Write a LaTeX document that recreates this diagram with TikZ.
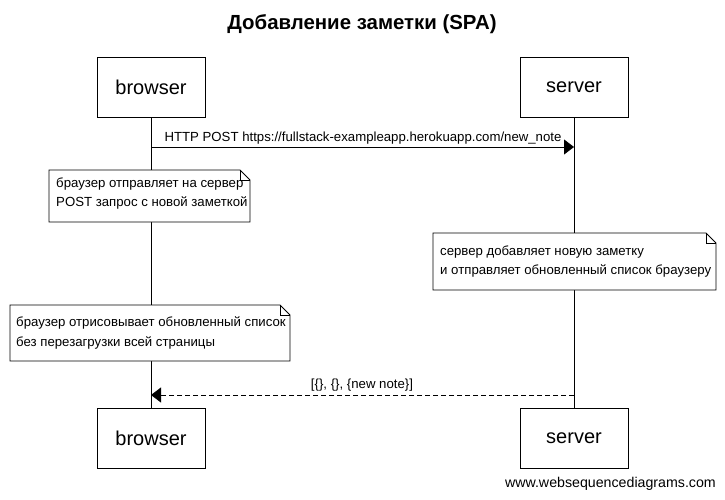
\documentclass[tikz,border=0pt]{standalone}
\usepackage{fontspec}
\setmainfont{Liberation Sans}
\usetikzlibrary{arrows.meta}
\begin{document}
\begin{tikzpicture}[x=1pt,y=-1pt,
  actor/.style={draw,line width=0.8pt,minimum width=108pt,minimum height=60pt,font=\fontsize{20}{24}\selectfont,inner sep=0pt},
  life/.style={line width=0.8pt},
  msg/.style={line width=0.8pt,-{Triangle[length=10pt,width=15pt]}},
  lbl/.style={font=\fontsize{13.2}{15}\selectfont,inner sep=0pt},
  notetext/.style={font=\fontsize{13.2}{15}\selectfont,anchor=west,inner sep=0pt}
]
\useasboundingbox (0,0) rectangle (725,500);
\node[font=\bfseries\fontsize{20.4}{24}\selectfont] (title) at (362,24) {Добавление заметки (SPA)};
\node[actor] (b1) at (151,87) {browser};
\node[actor] (s1) at (574,87) {server};
\node[actor] (b2) at (151,438) {browser};
\node[actor] (s2) at (574,438) {server};
\draw[life] (b1.south) -- (b2.north);
\draw[life] (s1.south) -- (s2.north);
\coordinate (m1a) at (151,147);
\coordinate (m1b) at (574,147);
\draw[msg] (m1a) -- (m1b);
\node[lbl] (m1l) at (363,138) {HTTP POST https://fullstack-exampleapp.herokuapp.com/new\_note};
\coordinate (m2a) at (574,395);
\coordinate (m2b) at (151,395);
\draw[msg,dashed,dash pattern=on 5pt off 3pt] (m2a) -- (m2b);
\node[lbl] (m2l) at (362,385) {[\{\}, \{\}, \{new note\}]};
% notes
\newcommand{\notebox}[4]{%
  \filldraw[fill=white,line width=0.8pt] (#1,#2) -- (#3-10,#2) -- (#3,#2+10) -- (#3,#4) -- (#1,#4) -- cycle;
  \draw[line width=0.8pt] (#3-10,#2) -- (#3-10,#2+10) -- (#3,#2+10);}
\notebox{49}{170}{250}{222}
\node[notetext] (n1a) at (56,184) {браузер отправляет на сервер};
\node[notetext] (n1b) at (56,203) {POST запрос с новой заметкой};
\notebox{433}{233}{716}{290}
\node[notetext] (n2a) at (440,252) {сервер добавляет новую заметку};
\node[notetext] (n2b) at (440,271) {и отправляет обновленный список браузеру};
\notebox{10}{305}{290}{361}
\node[notetext] (n3a) at (16,323) {браузер отрисовывает обновленный список};
\node[notetext] (n3b) at (16,343) {без перезагрузки всей страницы};
\node[font=\fontsize{14.2}{16}\selectfont,anchor=east,inner sep=0pt] (foot) at (716,484) {www.websequencediagrams.com};
\end{tikzpicture}
\end{document}
